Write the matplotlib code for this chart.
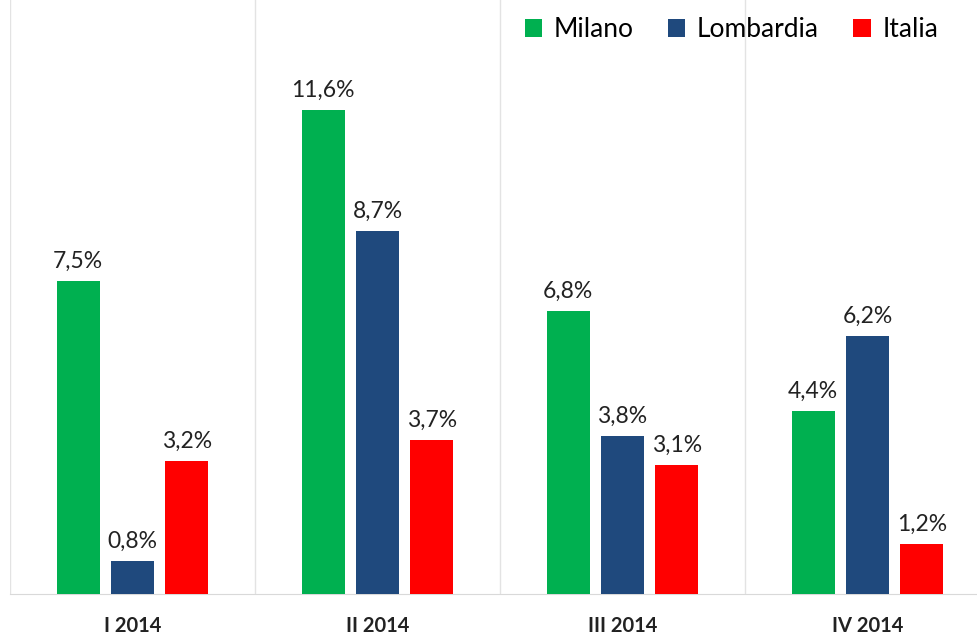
import numpy as np
import matplotlib.pyplot as plt

plt.rcParams['font.family'] = ['Lato', 'DejaVu Sans']

# dati
categories = ["I 2014", "II 2014", "III 2014", "IV 2014"]
series = ["Milano", "Lombardia", "Italia"]
milano = [7.5, 11.6, 6.8, 4.4]
lombardia = [0.8, 8.7, 3.8, 6.2]
italia = [3.2, 3.7, 3.1, 1.2]
colors = ["#00B050", "#1F497D", "#FF0000"]

W, H = 978, 637
fig = plt.figure(figsize=(W / 100, H / 100), dpi=100)
ax = fig.add_axes([10 / W, 43 / H, 980 / W, 594 / H])

x = np.arange(len(categories))
width = 0.176
step = 0.222
for i, (vals, name) in enumerate(zip([milano, lombardia, italia], series)):
    pos = x + (i - 1) * step
    bars = ax.bar(pos, vals, width, color=colors[i], label=name, zorder=3)
    for b, v in zip(bars, vals):
        ax.text(b.get_x() + b.get_width() / 2, v + 0.22, f"{v:.1f}%".replace(".", ","),
                ha="center", va="bottom", fontsize=16.5, color="#222222")

ax.set_xlim(-0.5, 3.5)
ax.set_ylim(0, 14.25)
ax.set_yticks([])
ax.set_xticks(x)
ax.set_xticklabels(categories, fontsize=14.5, fontweight="bold", color="#222222")
ax.tick_params(axis="x", length=0, pad=16)

# linee verticali tra i gruppi
for b in np.arange(-0.5, 3.6, 1):
    ax.axvline(b, color="#E3E3E3", lw=1, zorder=1)

for s in ["top", "right", "left"]:
    ax.spines[s].set_visible(False)
ax.spines["bottom"].set_color("#D9D9D9")

leg = fig.legend(loc="upper right", bbox_to_anchor=(962 / W, 1.01), ncol=3, frameon=False,
                 fontsize=19, handlelength=0.65, handleheight=0.65, handletextpad=0.45,
                 columnspacing=1.3)

fig.savefig("out.png", dpi=100)
